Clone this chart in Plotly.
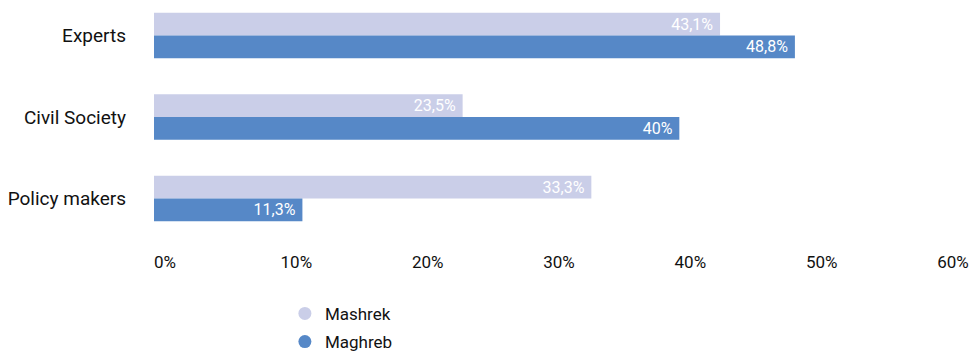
import plotly.graph_objects as go

# Survey groups (top to bottom) and share of respondents per region
groups = ["Experts", "Civil Society", "Policy makers"]
mashrek = [43.1, 23.5, 33.3]
maghreb = [48.8, 40.0, 11.3]
x_ticks = [0, 10, 20, 30, 40, 50, 60]
x_tick_text = [f"{v}%" for v in x_ticks]

COL_MASHREK = "#CACEE8"
COL_MAGHREB = "#5688C7"
FONT = "Roboto"


def pct_label(v):
    # decimal comma, no trailing ",0"
    return f"{v:g}".replace(".", ",") + "%\u00a0"


fig = go.Figure()

for name, vals, col in [("Mashrek", mashrek, COL_MASHREK), ("Maghreb", maghreb, COL_MAGHREB)]:
    fig.add_trace(go.Bar(
        y=groups, x=vals, orientation="h", name=name,
        marker=dict(color=col, line=dict(width=0)),
        text=[pct_label(v) for v in vals],
        textposition="inside", insidetextanchor="end", textangle=0,
        textfont=dict(family=FONT, size=16, color="white"),
        showlegend=False, hoverinfo="x+name",
    ))

# round legend markers
for name, col in [("Mashrek", COL_MASHREK), ("Maghreb", COL_MAGHREB)]:
    fig.add_trace(go.Scatter(
        x=[None], y=[None], mode="markers", name=name, legendgroup=name,
        marker=dict(symbol="circle", size=13, color=col),
    ))

fig.update_layout(
    width=969, height=351,
    margin=dict(l=154, r=27, t=5, b=106, autoexpand=False),
    paper_bgcolor="white", plot_bgcolor="white",
    barmode="group", bargap=0.44, bargroupgap=0,
    uniformtext=dict(minsize=16, mode="show"),
    font=dict(family=FONT, size=17, color="#111111"),
    legend=dict(
        orientation="v", xref="container", yref="container",
        x=0.294, y=0.157, xanchor="left", yanchor="top",
        font=dict(family=FONT, size=17, color="#111111"),
        tracegroupgap=3, itemclick=False, bgcolor="rgba(0,0,0,0)",
    ),
    xaxis=dict(
        range=[0, 60], tickvals=x_ticks, ticktext=x_tick_text,
        showgrid=False, zeroline=False, showline=False, ticks="",
        tickfont=dict(family=FONT, size=17, color="#111111"),
        ticklabelshift=11, ticklabelstandoff=5, fixedrange=True,
    ),
    yaxis=dict(
        type="category", categoryorder="array", categoryarray=groups,
        range=[2.571, -0.374],
        showgrid=False, zeroline=False, showline=False, ticks="",
        tickfont=dict(family=FONT, size=19, color="#111111"),
        ticklabelstandoff=27, fixedrange=True,
    ),
)

fig.write_html("out.html")
